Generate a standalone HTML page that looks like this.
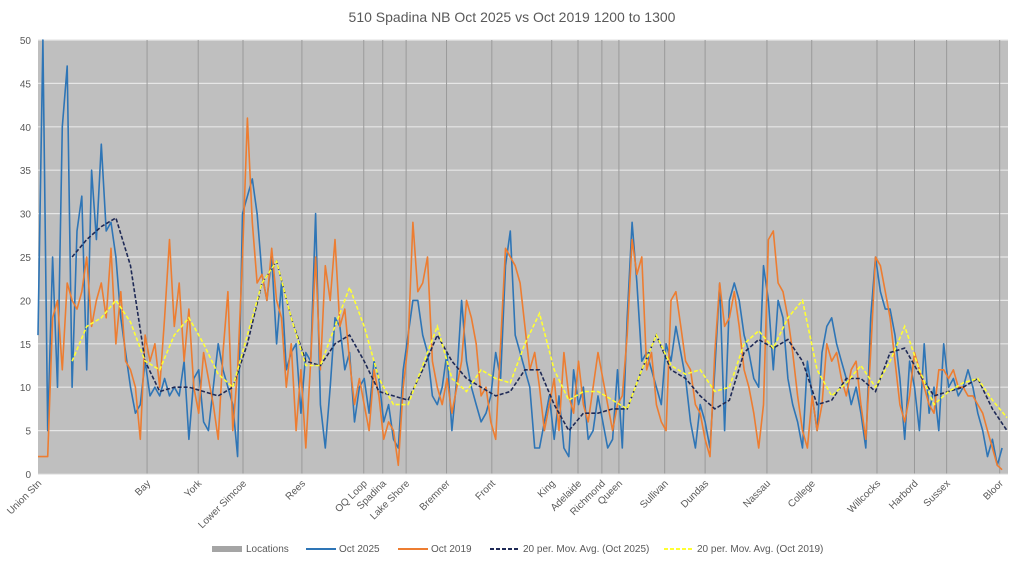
<!DOCTYPE html>
<html><head><meta charset="utf-8"><style>
html,body{margin:0;padding:0;background:#fff;}
svg{display:block;font-family:"Liberation Sans",sans-serif;}
</style></head><body>
<svg id="chart" width="1024" height="562">
<text x="512" y="22" text-anchor="middle" font-size="14" fill="#595959">510 Spadina NB Oct 2025 vs Oct 2019 1200 to 1300</text>
<rect x="38" y="40" width="970" height="434" fill="#bfbfbf"/>
<g id="grid"></g><g id="series"></g><g id="axes"></g>
<g font-size="10" fill="#595959">
<rect x="212" y="546" width="30" height="6" fill="#a5a5a5"/>
<text x="246" y="552">Locations</text>
<line x1="306" y1="549" x2="336" y2="549" stroke="#2e75b6" stroke-width="2"/>
<text x="339" y="552">Oct 2025</text>
<line x1="398" y1="549" x2="428" y2="549" stroke="#ed7d31" stroke-width="2"/>
<text x="431" y="552">Oct 2019</text>
<line x1="490" y1="549" x2="520" y2="549" stroke="#1f2a56" stroke-width="2" stroke-dasharray="4,2"/>
<text x="523" y="552">20 per. Mov. Avg. (Oct 2025)</text>
<line x1="664" y1="549" x2="694" y2="549" stroke="#ffff33" stroke-width="2" stroke-dasharray="4,2"/>
<text x="697" y="552">20 per. Mov. Avg. (Oct 2019)</text>
</g>
</svg>
<script>
const yTicks=[0,5,10,15,20,25,30,35,40,45,50];
const locNames=["Union Stn","Bay","York","Lower Simcoe","Rees","OQ Loop","Spadina","Lake Shore","Bremner","Front","King","Adelaide","Richmond","Queen","Sullivan","Dundas","Nassau","College","Willcocks","Harbord","Sussex","Bloor"];
const locIndex=[0,22.4,32.9,42.1,54.2,66.9,70.8,75.6,83.9,93.2,105.5,110.9,115.8,119.3,128.7,137,149.7,158.9,172.3,180,186.6,197.5];
const oct2025=[16,50,5,25,10,40,47,10,28,32,12,35,27,38,28,29,25,18,14,10,7,8,13,9,10,9,11,9,10,9,13,4,11,12,6,5,10,15,12,10,8,2,30,32,34,30,23,20,25,15,22,
12,14,15,7,14,13,30,8,3,10,18,17,12,14,6,10,11,7,13,11,6,8,4,3,12,16,20,20,16,14,9,8,10,14,5,11,20,13,10,8,6,7,9,14,11,24,28,16,14,12,
10,3,3,6,9,4,9,3,2,12,8,10,4,5,9,6,3,4,12,3,18,29,22,13,14,12,10,8,15,13,17,14,11,6,3,8,6,3,12,22,5,20,22,20,16,14,11,10,24,
20,12,20,18,11,8,6,3,13,9,5,14,17,18,15,13,11,8,10,7,3,18,25,21,19,19,16,11,4,13,10,5,15,7,10,5,15,10,11,9,10,12,10,7,5,2,4,1,3,null];
const oct2019=[2,2,2,18,20,12,22,20,19,21,25,17,20,22,18,26,15,21,13,12,10,4,16,13,15,10,18,27,17,22,13,19,10,7,14,11,8,4,14,21,5,12,25,41,29,22,23,20,26,20,18,
10,15,5,12,3,13,25,12,24,20,27,17,19,13,8,11,8,5,12,9,4,6,5,1,10,15,29,21,22,25,13,10,8,11,7,10,13,20,18,15,9,10,6,4,15,26,25,24,22,17,
12,14,10,5,8,11,5,14,9,7,13,8,6,10,14,11,8,5,8,9,16,27,23,25,12,14,8,6,5,20,21,17,13,12,8,7,4,2,14,22,17,18,21,17,12,10,7,3,8,
27,28,22,21,18,14,9,5,3,9,5,8,15,13,14,11,9,12,13,8,4,14,25,24,21,18,13,8,6,9,14,12,10,8,7,12,12,11,12,10,10,9,9,8,7,5,3,1,0.5,null];
const maStart=7, maStep=3;
const ma2025=[25,27,28.5,29.5,24,13,9.5,10,10,9.5,9,10,15,22,24.5,18,13,12.5,15,16,13,9.5,9,8.5,12,16,13,11,10,9,9.5,12,12,8,5,7,7,7.5,7.5,12,16,12,11,9,7.5,8.5,14,15.5,14.5,15.5,13,8,8.5,11,11,9.5,14,14.5,11.5,9,9.5,10,11,7.5,5];
const ma2019=[13,17,18,20,17.5,13,12,16,18,15,11.5,10,16,22,24.5,18,12.5,12.5,17,21.5,17,11,8,8,12.5,17,11,9.5,12,11,10.5,15,18.5,12,8.5,9.5,9.5,8.5,7.5,12,16,12.5,11.5,12,9.5,10,15,16.5,14.5,18,20,12,9,10.5,12.5,10,13,17,12,8,9.5,10.5,11,8.5,6.5];
const N=200, X0=38, X1=1007, Y0=474, Y1=40;
const xs=i=>X0+i*(X1-X0)/(N-1);
const ys=v=>Y0-(v/50)*(Y0-Y1);
const NS="http://www.w3.org/2000/svg";
const grid=document.getElementById('grid'), series=document.getElementById('series'), axes=document.getElementById('axes');
function mk(tag,attrs,parent){const e=document.createElementNS(NS,tag);for(const k in attrs)e.setAttribute(k,attrs[k]);parent.appendChild(e);return e;}
yTicks.forEach(t=>{
  if(t>0){const l=mk('line',{x1:X0,x2:1008,y1:ys(t),y2:ys(t),stroke:'#e6e6e6','stroke-width':1.2},grid);
  
  }
  const tx=mk('text',{x:31,y:ys(t)+4,'text-anchor':'end','font-size':10,fill:'#595959'},axes);
  tx.textContent=t;
  
  
});
locNames.forEach((n,k)=>{
  const x=xs(locIndex[k]);
  if(k>0){const l=mk('line',{x1:x,x2:x,y1:Y1,y2:Y0,stroke:'#9a9a9a','stroke-width':1},grid);
  
  }
  const t=mk('text',{x:x+4,y:484,'text-anchor':'end','font-size':10,fill:'#595959',transform:`rotate(-45 ${x+4} 484)`},axes);
  t.textContent=n;
  
  
});
const ax=mk('line',{x1:X0,x2:1008,y1:Y0,y2:Y0,stroke:'#d9d9d9','stroke-width':1},axes);


function pathFrom(vals,idx){let d='',pen=false;vals.forEach((v,j)=>{if(v===null||v===undefined){pen=false;return;}const i=idx(j);d+=(pen?'L':'M')+xs(i).toFixed(1)+','+ys(v).toFixed(1);pen=true;});return d;}
const p1=mk('path',{d:pathFrom(oct2025,j=>j),fill:'none',stroke:'#2e75b6','stroke-width':1.6,'stroke-linejoin':'round'},series);


const p2=mk('path',{d:pathFrom(oct2019,j=>j),fill:'none',stroke:'#ed7d31','stroke-width':1.6,'stroke-linejoin':'round'},series);


const p3=mk('path',{d:pathFrom(ma2025,j=>maStart+j*maStep),fill:'none',stroke:'#1f2a56','stroke-width':1.6,'stroke-dasharray':'4,2'},series);


const p4=mk('path',{d:pathFrom(ma2019,j=>maStart+j*maStep),fill:'none',stroke:'#ffff33','stroke-width':1.6,'stroke-dasharray':'4,2'},series);


</script>
</body></html>
